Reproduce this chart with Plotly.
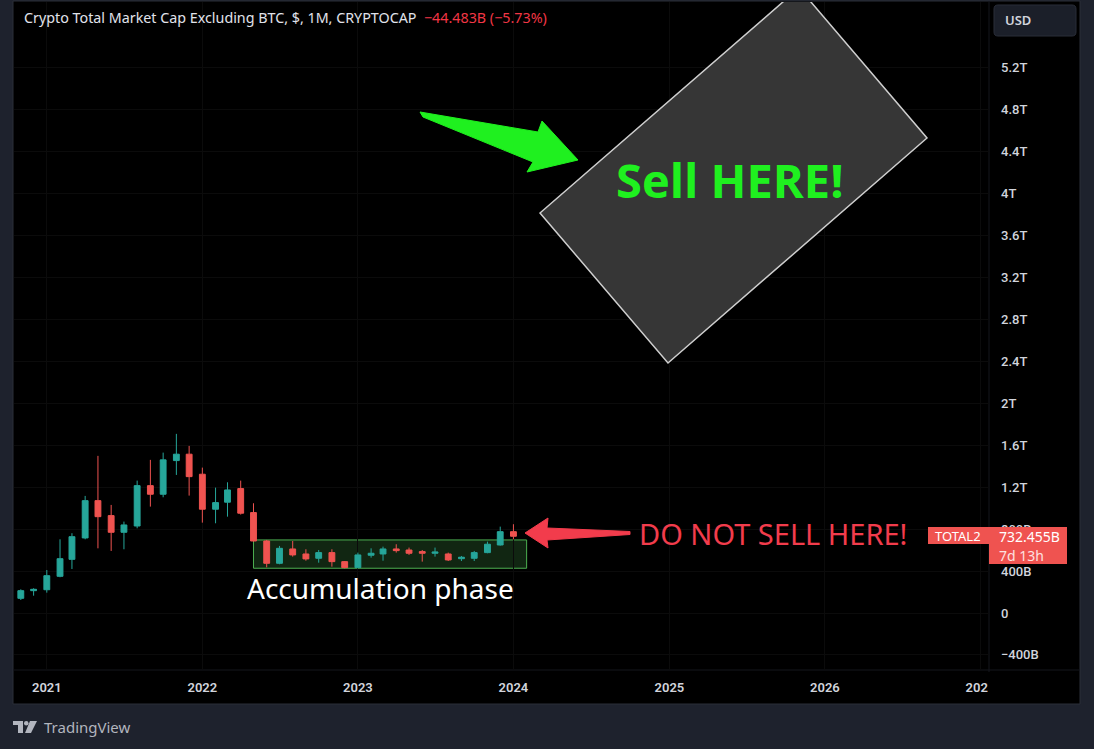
import plotly.graph_objects as go

# ---------------- data (values in billions USD) ----------------
months = ["2020-11-01", "2020-12-01",
          "2021-01-01", "2021-02-01", "2021-03-01", "2021-04-01", "2021-05-01", "2021-06-01",
          "2021-07-01", "2021-08-01", "2021-09-01", "2021-10-01", "2021-11-01", "2021-12-01",
          "2022-01-01", "2022-02-01", "2022-03-01", "2022-04-01", "2022-05-01", "2022-06-01",
          "2022-07-01", "2022-08-01", "2022-09-01", "2022-10-01", "2022-11-01", "2022-12-01",
          "2023-01-01", "2023-02-01", "2023-03-01", "2023-04-01", "2023-05-01", "2023-06-01",
          "2023-07-01", "2023-08-01", "2023-09-01", "2023-10-01", "2023-11-01", "2023-12-01",
          "2024-01-01"]
open_b = [140, 213, 222, 350, 512, 716, 1072, 929, 770, 830, 1215, 1133, 1454, 1515,
          1324, 990, 1057, 1187, 958, 687, 474, 611, 563, 522, 576, 490,
          433, 551, 563, 611, 601, 586, 570, 563, 518, 522, 576, 649, 776]
high_b = [226, 236, 410, 703, 761, 1117, 1499, 1031, 872, 1263, 1461, 1530, 1709, 1594,
          1387, 1196, 1247, 1263, 1047, 697, 640, 687, 608, 601, 608, 496,
          576, 617, 633, 656, 624, 601, 624, 576, 544, 592, 681, 824, 847]
low_b = [124, 165, 194, 341, 420, 703, 617, 592, 608, 808, 1015, 1104, 1317, 1120,
         862, 856, 919, 939, 681, 436, 465, 538, 499, 480, 442, 426,
         426, 528, 499, 576, 554, 490, 538, 496, 496, 496, 570, 643, 703]
close_b = [213, 226, 356, 518, 728, 1072, 919, 770, 840, 1215, 1133, 1461, 1515, 1301,
           990, 1053, 1174, 952, 687, 474, 617, 554, 516, 576, 490, 433,
           554, 570, 611, 595, 570, 570, 582, 506, 532, 576, 656, 776, 732]

year_ticks = ["2021-01-01", "2022-01-01", "2023-01-01", "2024-01-01",
              "2025-01-01", "2026-01-01", "2027-01-01"]
year_labels = ["2021", "2022", "2023", "2024", "2025", "2026", "2027"]
price_ticks = [-400, 0, 400, 800, 1200, 1600, 2000, 2400, 2800, 3200, 3600, 4000, 4400, 4800, 5200]
price_labels = ["\u2212400B", "0", "400B", "800B", "1.2T", "1.6T", "2T", "2.4T", "2.8T",
                "3.2T", "3.6T", "4T", "4.4T", "4.8T", "5.2T"]

accum_start, accum_end = "2022-05-01", "2024-02-01"
accum_low, accum_high = 427, 697

title_text = "Crypto Total Market Cap Excluding BTC, $, 1M, CRYPTOCAP"
change_text = "\u221244.483B (\u22125.73%)"
last_price_text = "732.455B"
countdown_text = "7d 13h"
symbol_text = "TOTAL2"

# ---------------- style ----------------
W, H = 1094, 749
L, R, T, B = 14, 989, 2, 670          # plot area in pixels
TEAL = "#26a69a"
RED = "#ef5350"
FRAME = "#1e222d"
TXT = "#d1d4dc"
GREEN = "#1ff01f"


def px(x):
    return (x - L) / (R - L)


def py(y):
    return (B - y) / (B - T)


fig = go.Figure()
fig.add_trace(go.Candlestick(
    x=months, open=open_b, high=high_b, low=low_b, close=close_b,
    increasing=dict(line=dict(color=TEAL, width=1), fillcolor=TEAL),
    decreasing=dict(line=dict(color=RED, width=1), fillcolor=RED),
    whiskerwidth=0, hoverinfo="skip", showlegend=False,
))
# pixel-space overlay (for drawings)
fig.add_trace(go.Scatter(x=[L], y=[B], xaxis="x2", yaxis="y2", mode="markers",
                         marker=dict(opacity=0), hoverinfo="skip", showlegend=False))

shapes = []
# black chart panel
shapes.append(dict(type="rect", xref="paper", yref="paper", x0=px(13), x1=px(1080),
                   y0=py(704), y1=py(1), fillcolor="#000000",
                   line=dict(color="#2a2e39", width=1), layer="below"))
# axis separators
shapes.append(dict(type="line", xref="paper", yref="paper", x0=px(R), x1=px(R),
                   y0=py(704), y1=py(1), line=dict(color="#15171c", width=1), layer="below"))
shapes.append(dict(type="line", xref="paper", yref="paper", x0=px(13), x1=px(1080),
                   y0=py(B), y1=py(B), line=dict(color="#15171c", width=1), layer="below"))

# accumulation box (data coords)
shapes.append(dict(type="rect", xref="x", yref="y", x0=accum_start, x1=accum_end,
                   y0=accum_low, y1=accum_high, fillcolor="rgba(76,175,80,0.22)",
                   line=dict(color="#4caf50", width=1), layer="below"))

# rotated grey box (pixel coords, clipped by plot area)
shapes.append(dict(type="path", xref="x2", yref="y2",
                   path="M540,213 L668,363 L927,138 L799,-12 Z",
                   fillcolor="#363636", line=dict(color="#cfcfcf", width=1.5)))
# green arrow
shapes.append(dict(type="path", xref="x2", yref="y2",
                   path="M420,112 L538,132 L542,121 L578,160 L527,172 L533,162 L423,117 Z",
                   fillcolor=GREEN, line=dict(color=GREEN, width=1)))
# red arrow
shapes.append(dict(type="path", xref="x2", yref="y2",
                   path="M525,533 L548,518 L547,528 L630,531.5 L630,534.5 L547,540 L548,548 Z",
                   fillcolor="#f23c4c", line=dict(color="#f23c4c", width=1)))

# last price label boxes
shapes.append(dict(type="rect", xref="paper", yref="paper", x0=px(928), x1=px(990),
                   y0=py(544), y1=py(527), fillcolor=RED, line=dict(width=0), layer="above"))
shapes.append(dict(type="rect", xref="paper", yref="paper", x0=px(989), x1=px(1067),
                   y0=py(564), y1=py(527), fillcolor=RED, line=dict(width=0), layer="above"))
# mask for clipped year label
shapes.append(dict(type="rect", xref="paper", yref="paper", x0=px(988), x1=px(1079),
                   y0=py(703), y1=py(672), fillcolor="#000000", line=dict(width=0), layer="above"))

# USD button (rounded)
x0b, x1b, y0b, y1b, r = 994, 1076, 5, 36, 4


def P(x, y):
    return f"{px(x):.5f},{py(y):.5f}"


usd_path = (f"M{P(x0b + r, y0b)} L{P(x1b - r, y0b)} Q{P(x1b, y0b)} {P(x1b, y0b + r)} "
            f"L{P(x1b, y1b - r)} Q{P(x1b, y1b)} {P(x1b - r, y1b)} L{P(x0b + r, y1b)} "
            f"Q{P(x0b, y1b)} {P(x0b, y1b - r)} L{P(x0b, y0b + r)} Q{P(x0b, y0b)} {P(x0b + r, y0b)} Z")
shapes.append(dict(type="path", xref="paper", yref="paper", path=usd_path,
                   fillcolor="#1b1f29", line=dict(color="#2a2e39", width=1), layer="above"))

# TradingView logo glyph
shapes.append(dict(type="path", xref="paper", yref="paper",
                   path=f"M{P(13,721)} L{P(23,721)} L{P(23,733)} L{P(18,733)} L{P(18,725)} L{P(13,725)} Z",
                   fillcolor="#b2b5be", line=dict(width=0), layer="above"))
shapes.append(dict(type="circle", xref="paper", yref="paper", x0=px(24), x1=px(28.5),
                   y0=py(725.5), y1=py(721), fillcolor="#b2b5be", line=dict(width=0), layer="above"))
shapes.append(dict(type="path", xref="paper", yref="paper",
                   path=f"M{P(30,721)} L{P(37,721)} L{P(31,733)} L{P(25,733)} Z",
                   fillcolor="#b2b5be", line=dict(width=0), layer="above"))


def note(x, y, text, font, xanchor="center", xref="paper", yref="paper"):
    if xref == "paper":
        x, y = px(x), py(y)
    return dict(xref=xref, yref=yref, x=x, y=y, xanchor=xanchor, yanchor="middle",
                text=text, showarrow=False, font=font)


annotations = [
    note(22, 18, f"{title_text}  <span style='color:#f23645'>{change_text}</span>",
         dict(family="Noto Sans", size=14.3, color="#e0e3eb"), xanchor="left"),
    note(730, 180, "Sell HERE!", dict(family="Open Sans", size=47, color=GREEN, weight=700),
         xref="x2", yref="y2"),
    note(380, 588, "Accumulation phase", dict(family="Noto Sans", size=28, color="#ffffff"),
         xref="x2", yref="y2"),
    note(773, 533, "DO NOT SELL HERE!", dict(family="Noto Sans", size=29, color="#f23c4c"),
         xref="x2", yref="y2"),
    note(958, 536, symbol_text, dict(family="Noto Sans", size=13, color="#ffffff")),
    note(997, 536, last_price_text, dict(family="Noto Sans", size=14, color="#ffffff"),
         xanchor="left"),
    note(997, 555, countdown_text, dict(family="Noto Sans", size=14, color="#fde0e0"),
         xanchor="left"),
    note(1018, 20, "USD", dict(family="Noto Sans", size=13, color="#d1d4dc", weight=600)),
    note(42, 727, "TradingView", dict(family="Noto Sans", size=15, color="#b2b5be"),
         xanchor="left"),
]

fig.update_layout(
    width=W, height=H,
    margin=dict(l=L, r=W - R, t=T, b=H - B, pad=0),
    paper_bgcolor=FRAME, plot_bgcolor="#000000",
    hovermode=False, showlegend=False, dragmode=False,
    xaxis=dict(type="date", range=["2020-10-16", "2027-01-21"],
               tickmode="array", tickvals=year_ticks, ticktext=year_labels,
               rangeslider=dict(visible=False), showgrid=True, gridcolor="#0b0b0b",
               zeroline=False, showline=False, ticks="", ticklabelstandoff=8,
               tickfont=dict(family="Roboto", size=13, color=TXT, weight=600)),
    yaxis=dict(side="right", range=[-543.8, 5829], tickmode="array",
               tickvals=price_ticks, ticktext=price_labels, showgrid=True,
               gridcolor="#0b0b0b", zeroline=False, showline=False, ticks="",
               ticklabelstandoff=11,
               tickfont=dict(family="Roboto", size=13, color=TXT, weight=500)),
    xaxis2=dict(overlaying="x", anchor="y2", range=[L, R], visible=False),
    yaxis2=dict(overlaying="y", anchor="x2", range=[B, T], visible=False),
    shapes=shapes, annotations=annotations,
)

fig.write_html("out.html", config={"displayModeBar": False},
               post_script="document.body.style.margin='0';document.body.style.background='#1e222d';")
